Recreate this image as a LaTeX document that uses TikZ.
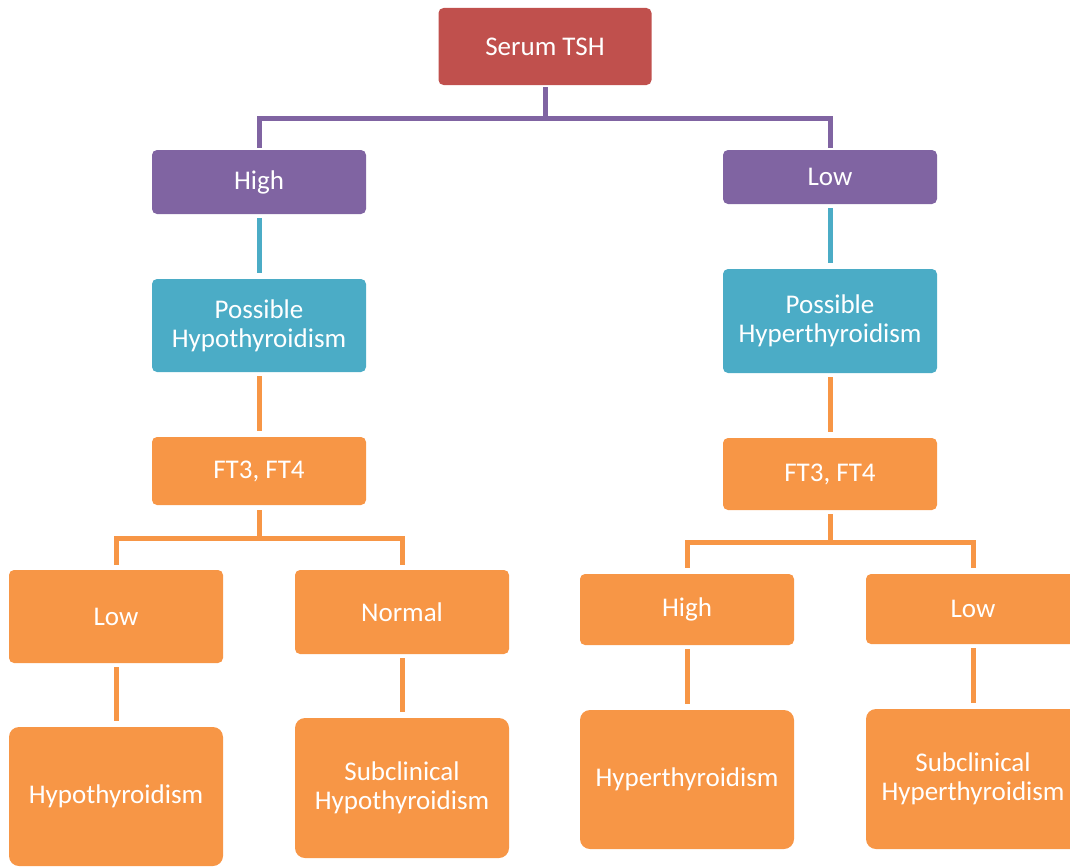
\documentclass[tikz,border=0pt]{standalone}
\usepackage{fontspec}
\setmainfont{Carlito}
\definecolor{cred}{HTML}{C0504D}
\definecolor{cpurple}{HTML}{8064A2}
\definecolor{ccyan}{HTML}{4BACC6}
\definecolor{corange}{HTML}{F79646}
\begin{document}
\begin{tikzpicture}[x=1pt,y=-1pt,
  box/.style={rectangle,rounded corners=5pt,draw=none,text=white,align=center,
    font=\fontsize{27}{29}\selectfont,minimum width=214pt,inner sep=0pt},
  bigbox/.style={box,rounded corners=10pt},
  conn/.style={line width=5pt,shorten <=4pt,shorten >=6pt}]
\useasboundingbox (0,0) rectangle (1070,867);
\node[box,fill=cred,minimum width=213pt,minimum height=77pt] (tsh) at (545,46.5) {Serum TSH};
\node[box,fill=cpurple,minimum height=64pt] (high) at (259,182) {High};
\node[box,fill=cpurple,minimum height=54pt] (low) at (830,177) {Low};
\node[box,fill=ccyan,minimum height=93pt] (phypo) at (259,325.5) {Possible\\Hypothyroidism};
\node[box,fill=ccyan,minimum height=104pt] (phyper) at (830,321) {Possible\\Hyperthyroidism};
\node[box,fill=corange,minimum height=68pt] (ft1) at (259,471) {FT3, FT4};
\node[box,fill=corange,minimum height=72pt] (ft2) at (830,474) {FT3, FT4};
\node[box,fill=corange,minimum height=93pt] (l1) at (116,616.5) {Low};
\node[box,fill=corange,minimum height=84pt] (n1) at (402,612) {Normal};
\node[box,fill=corange,minimum height=71pt] (h2) at (687,609.5) {High};
\node[box,fill=corange,minimum height=70pt] (l2) at (973,609) {Low};
\node[bigbox,fill=corange,minimum height=139pt] (hypo) at (116,796.5) {Hypothyroidism};
\node[bigbox,fill=corange,minimum height=140pt] (sub1) at (402,788) {Subclinical\\Hypothyroidism};
\node[bigbox,fill=corange,minimum height=139pt] (hyper) at (687,779.5) {Hyperthyroidism};
\node[bigbox,fill=corange,minimum height=140pt] (sub2) at (973,779) {Subclinical\\Hyperthyroidism};
% purple connector
\draw[cpurple,line width=5pt,shorten <=2pt,shorten >=2pt] (tsh.south) |- (259,118) -- (high.north);
\draw[cpurple,line width=5pt,shorten >=2pt] (545,118) -| (low.north);
% cyan
\draw[ccyan,conn] (high) -- (phypo);
\draw[ccyan,conn] (low) -- (phyper);
% orange
\draw[corange,conn] (phypo) -- (ft1);
\draw[corange,conn] (phyper) -- (ft2);
\draw[corange,line width=5pt,shorten <=5pt,shorten >=5pt] (ft1.south) |- (116,538) -- (l1.north);
\draw[corange,line width=5pt,shorten >=5pt] (259,538) -| (n1.north);
\draw[corange,line width=5pt,shorten <=4pt,shorten >=6pt] (ft2.south) |- (687,542) -- (h2.north);
\draw[corange,line width=5pt,shorten >=6pt] (830,542) -| (l2.north);
\draw[corange,conn] (l1) -- (hypo);
\draw[corange,conn] (n1) -- (sub1);
\draw[corange,conn] (h2) -- (hyper);
\draw[corange,conn] (l2) -- (sub2);
\end{tikzpicture}
\end{document}
